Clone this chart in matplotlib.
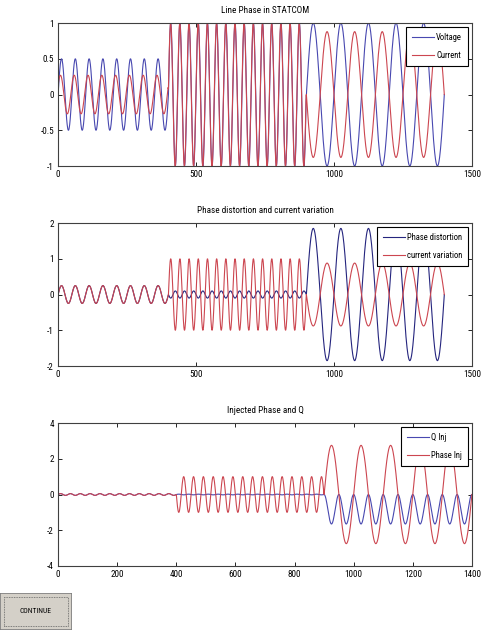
import numpy as np
import matplotlib
matplotlib.use('Agg')
import matplotlib.pyplot as plt
from matplotlib import font_manager as fm
from matplotlib.patches import Rectangle

# MATLAB-like narrow font if one is installed
names = {f.name for f in fm.fontManager.ttflist}
narrow = [n for n in ['Liberation Sans Narrow', 'DejaVu Sans Condensed', 'Roboto Condensed',
                      'Open Sans Condensed'] if n in names]
plt.rcParams['font.family'] = narrow + ['DejaVu Sans']
FS = 6.6 if narrow else 6.0

# segments of the simulation (sample index)
seg_start = [0, 400, 900]
seg_end = [400, 900, 1400]
seg_period = [50, 33.3, 100]

# plot 1: line phase
volt_amp = [0.5, 1.0, 1.0]
volt_phase = [0.0, 0.0, 0.0]
curr_amp = [0.27, 1.0, -0.88]
curr_phase = [0.5, 0.08, 0.0]

# plot 2: distortion / current variation
dist_amp = [0.25, -0.1, 1.85]
var_amp = [0.25, 1.0, -0.88]

# plot 3: injected phase and Q
phase_inj_amp = [0.05, -1.0, 2.75]
q_inj_amp = [0.05, 0.02, -1.65]
q_inj_shape = ['sin', 'sin', 'sin2']
small_period = 33.3


def build(amps, phases=None, shapes=None, periods=None):
    # piecewise sine, one piece per segment
    x = np.arange(seg_start[0], seg_end[-1] + 1)
    y = np.zeros(len(x), dtype=float)
    for i in range(len(seg_start)):
        m = (x >= seg_start[i]) & (x <= seg_end[i])
        p = seg_period[i] if periods is None else periods[i]
        ph = 0.0 if phases is None else phases[i]
        s = np.sin(2 * np.pi * (x[m] - seg_start[i]) / p + ph)
        if shapes is not None and shapes[i] == 'sin2':
            s = s ** 2
        y[m] = amps[i] * s
    return x, y


blue = '#4848b0'
red = '#cc4650'
navy = '#25257e'

fig = plt.figure(figsize=(4.84, 6.42), dpi=100)

def style(ax, xmax, xticks, ylim, yticks, ylabels):
    ax.set_xlim(0, xmax)
    ax.set_ylim(*ylim)
    ax.set_xticks(xticks)
    ax.set_yticks(yticks)
    ax.set_yticklabels(ylabels)
    ax.tick_params(direction='in', top=True, right=True, length=3, width=0.6,
                   labelsize=FS, pad=3)
    for s in ax.spines.values():
        s.set_linewidth(0.8)
        s.set_color('#404040')
    leg = ax.legend(loc='upper right', fancybox=False, framealpha=1,
                    edgecolor='black', fontsize=FS - 0.4, handlelength=2.6,
                    borderpad=0.7, labelspacing=1.0, handletextpad=0.2,
                    borderaxespad=0.45)
    leg.get_frame().set_linewidth(0.8)

# --- plot 1
ax1 = fig.add_axes([0.120, 0.7414, 0.855, 0.2227])
x, v = build(volt_amp, volt_phase)
x, c = build(curr_amp, curr_phase)
ax1.plot(x, v, color=blue, lw=0.8, label='Voltage')
ax1.plot(x, c, color=red, lw=0.8, label='Current')
ax1.set_title('Line Phase in STATCOM', fontsize=FS, pad=7)
style(ax1, 1500, [0, 500, 1000, 1500], (-1, 1), [-1, -0.5, 0, 0.5, 1],
      ['-1', '-0.5', '0', '0.5', '1'])

# --- plot 2
ax2 = fig.add_axes([0.120, 0.4299, 0.855, 0.2227])
x, d = build(dist_amp)
x, cv = build(var_amp)
ax2.plot(x, d, color=navy, lw=0.8, label='Phase distortion')
ax2.plot(x, cv, color=red, lw=0.8, label='current variation')
ax2.set_title('Phase distortion and current variation', fontsize=FS, pad=7)
style(ax2, 1500, [0, 500, 1000, 1500], (-2, 2), [-2, -1, 0, 1, 2],
      ['-2', '-1', '0', '1', '2'])

# --- plot 3
ax3 = fig.add_axes([0.120, 0.1184, 0.855, 0.2227])
x, q = build(q_inj_amp, shapes=q_inj_shape,
             periods=[small_period, small_period, seg_period[2]])
x, pi = build(phase_inj_amp, periods=[small_period, seg_period[1], seg_period[2]])
ax3.plot(x, q, color=blue, lw=0.8, label='Q Inj')
ax3.plot(x, pi, color=red, lw=0.8, label='Phase Inj')
ax3.set_title('Injected Phase and Q', fontsize=FS, pad=7)
style(ax3, 1400, list(range(0, 1401, 200)), (-4, 4), [-4, -2, 0, 2, 4],
      ['-4', '-2', '0', '2', '4'])

# CONTINUE button
bx = fig.add_axes([0.0, 1 - 630 / 642, 72 / 484, 37 / 642])
bx.set_xlim(0, 1)
bx.set_ylim(0, 1)
bx.axis('off')
bx.add_patch(Rectangle((0, 0), 1, 1, facecolor='#d4d0c8', edgecolor='#808080', lw=1.2))
bx.add_patch(Rectangle((0.06, 0.12), 0.88, 0.76, fill=False, edgecolor='#606060',
                       lw=0.6, linestyle=(0, (1, 1))))
bx.text(0.5, 0.5, 'CONTINUE', ha='center', va='center', fontsize=FS - 1.2)

fig.savefig('out.png', dpi=100)
